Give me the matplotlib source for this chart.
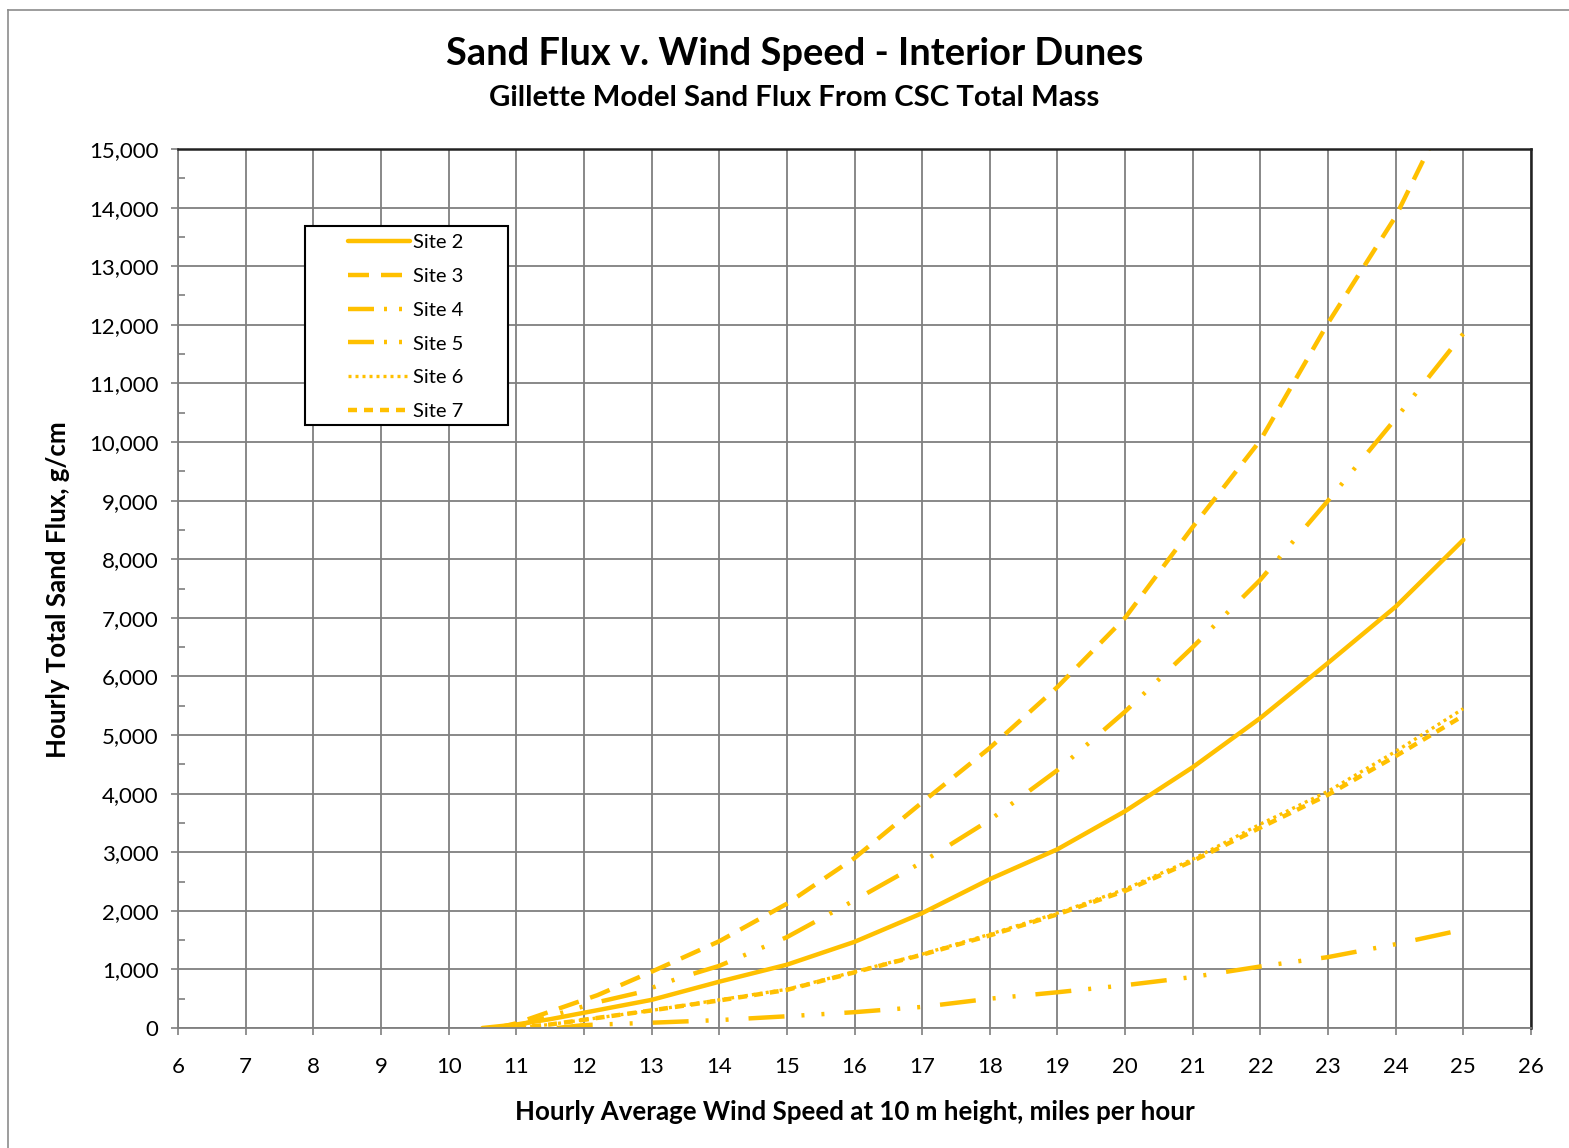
import numpy as np
import matplotlib.pyplot as plt
from matplotlib.lines import Line2D
from matplotlib.patches import Rectangle
from matplotlib.ticker import FuncFormatter, MultipleLocator

plt.rcParams['font.family'] = ['Lato', 'DejaVu Sans']
plt.rcParams['lines.scale_dashes'] = False

# wind speed (mph) and hourly sand flux (g/cm)
site2_x = [10.5, 11, 11.5, 12, 12.5, 13, 14, 15, 16, 17, 18, 19, 20, 21, 22, 23, 24, 25]
site2_y = [0, 60, 150, 260, 370, 480, 790, 1080, 1470, 1960, 2540, 3050, 3700, 4450, 5290, 6230, 7190, 8330]

site3_x = [10.7, 11, 11.65, 12.2, 13, 14, 15, 16, 17, 18, 19, 20, 21, 22, 23, 24, 25]
site3_y = [0, 80, 340, 560, 960, 1480, 2120, 2900, 3850, 4780, 5820, 7000, 8550, 10030, 12030, 13850, 16200]

site4_x = [10.9, 11.5, 12.2, 12.8, 13.4, 14, 15, 16, 17, 18, 19, 20, 21, 22, 23, 24, 25]
site4_y = [0, 200, 440, 600, 850, 1060, 1550, 2180, 2830, 3550, 4400, 5400, 6500, 7650, 9000, 10400, 11850]

site5_x = [11.6, 12, 13, 14, 15, 16, 17, 18, 19, 20, 21, 22, 23, 24, 25]
site5_y = [0, 50, 90, 135, 200, 270, 360, 500, 610, 730, 870, 1050, 1210, 1430, 1680]

site6_x = [11, 11.5, 12, 13, 14, 15, 16, 17, 18, 19, 20, 21, 22, 23, 24, 25]
site6_y = [0, 60, 140, 300, 480, 660, 960, 1260, 1600, 1960, 2370, 2880, 3480, 4040, 4720, 5450]

site7_x = [11, 11.5, 12, 13, 14, 15, 16, 17, 18, 19, 20, 21, 22, 23, 24, 25]
site7_y = [0, 60, 140, 300, 470, 650, 950, 1250, 1580, 1940, 2340, 2850, 3420, 3980, 4640, 5330]

gold = '#FFC000'
px = 0.72  # points per pixel at 100 dpi
W, H = 1569, 1148

fig = plt.figure(figsize=(15.69, 11.48), dpi=100)
ax = fig.add_axes([178 / W, 1 - 1028 / H, (1531 - 178) / W, (1028 - 149) / H])

# outer chart border (left and top edges only visible)
fig.add_artist(Line2D([8 / W, 8 / W], [0, 1 - 10 / H], transform=fig.transFigure, color='#8c8c8c', lw=1.2))
fig.add_artist(Line2D([8 / W, 1], [1 - 10 / H, 1 - 10 / H], transform=fig.transFigure, color='#8c8c8c', lw=1.2))

lw = 3.2
dash_long = [d * px for d in (21, 12)]
dash_short = [d * px for d in (9, 7)]
dots = [d * px for d in (3, 4)]
dash_dot_dot = [d * px for d in (36, 17, 3, 17, 3, 20)]

ax.plot(site2_x, site2_y, color=gold, lw=lw, label='Site 2', solid_capstyle='round')
ax.plot(site3_x, site3_y, color=gold, lw=lw, dashes=dash_long, label='Site 3')
ax.plot(site4_x, site4_y, color=gold, lw=lw, dashes=dash_dot_dot, label='Site 4')
ax.plot(site5_x, site5_y, color=gold, lw=lw, dashes=dash_dot_dot, label='Site 5')
ax.plot(site6_x, site6_y, color=gold, lw=2.4, dashes=dots, label='Site 6')
ax.plot(site7_x, site7_y, color=gold, lw=lw, dashes=dash_short, label='Site 7')

ax.set_xlim(6, 26)
ax.set_ylim(0, 15000)
ax.xaxis.set_major_locator(MultipleLocator(1))
ax.yaxis.set_major_locator(MultipleLocator(1000))
ax.yaxis.set_minor_locator(MultipleLocator(500))
ax.yaxis.set_major_formatter(FuncFormatter(lambda v, p: f'{int(v):,}'))
ax.grid(True, which='major', color='#7f7f7f', lw=1.3)
ax.set_axisbelow(True)

ax.tick_params(axis='both', which='major', labelsize=16, length=5, width=1.2,
               color='#7f7f7f', direction='out')
ax.tick_params(axis='y', which='major', pad=9)
ax.tick_params(axis='x', which='major', pad=16)
ax.tick_params(axis='y', which='minor', length=5, width=1.2, color='#7f7f7f', direction='in')
for s in ['top', 'right']:
    ax.spines[s].set_color('#222222')
    ax.spines[s].set_linewidth(1.8)
for s in ['left', 'bottom']:
    ax.spines[s].set_color('#7f7f7f')
    ax.spines[s].set_linewidth(1.3)

ax.set_xlabel('Hourly Average Wind Speed at 10 m height, miles per hour',
              fontsize=18.6, fontweight='bold', va='center')
ax.set_ylabel('Hourly Total Sand Flux, g/cm', fontsize=18.6, fontweight='bold', va='center')
ax.xaxis.set_label_coords(0.5, (1028 - 1112) / 879)
ax.yaxis.set_label_coords((58 - 178) / 1353, (1028 - 590) / 879)

fig.text(795 / W, 1 - 54 / H, 'Sand Flux v. Wind Speed - Interior Dunes',
         ha='center', va='center', fontsize=27.4, fontweight='bold')
fig.text(794 / W, 1 - 98 / H, 'Gillette Model Sand Flux From CSC Total Mass',
         ha='center', va='center', fontsize=21.2, fontweight='bold')

# legend box drawn separately to match the padding; entries sit on top of it
ax.add_patch(Rectangle((305 / W, 1 - 425 / H), (508 - 305) / W, (425 - 226) / H,
                       transform=fig.transFigure, facecolor='white', edgecolor='black',
                       lw=1.5, zorder=4.5, clip_on=False))
leg = ax.legend(loc='upper left', bbox_to_anchor=(348 / W, 1 - 234 / H),
                bbox_transform=fig.transFigure,
                fontsize=14.5, frameon=False, handlelength=3.1,
                handletextpad=0.15, labelspacing=0.83, borderpad=0, borderaxespad=0)
leg.set_zorder(5)
# shorter dash-dot-dot pattern in the legend swatches so both dots show
for h in leg.get_lines()[2:4]:
    h.set_dashes([d * px for d in (26, 10, 3, 12, 3, 20)])

fig.savefig('out.png', dpi=100)
